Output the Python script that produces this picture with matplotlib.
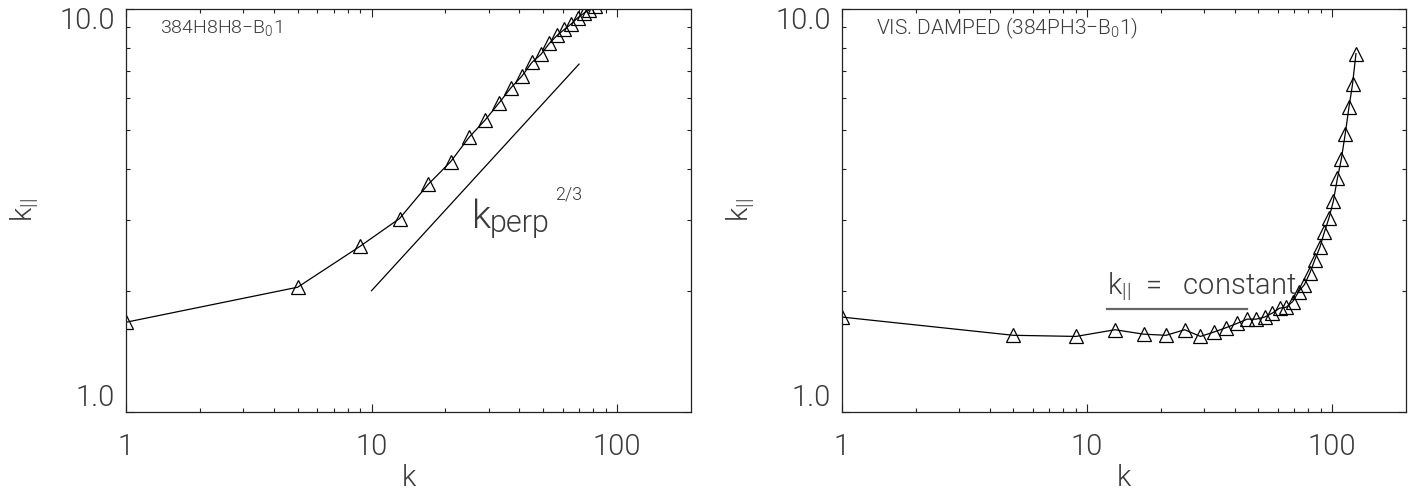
import matplotlib
matplotlib.use('Agg')
import matplotlib.pyplot as plt
from matplotlib import font_manager as fm
from matplotlib.transforms import ScaledTranslation
from matplotlib.ticker import FixedLocator, NullFormatter

# ---- data ----
left_k = [1, 5, 9, 13, 17, 21, 25, 29, 33, 37, 41, 45, 49, 53, 57, 61, 65, 69, 73, 77, 81]
left_v = [1.67, 2.04, 2.58, 3.02, 3.67, 4.18, 4.81, 5.30, 5.84, 6.38, 6.82, 7.37, 7.72,
          8.22, 8.60, 8.90, 9.18, 9.50, 9.75, 9.95, 10.15]
ref_k = [10, 70]
ref_v = [2.0, 7.3]

right_k = [1, 5, 9, 13, 17, 21, 25, 29, 33, 37, 41, 45, 49, 53, 57, 61, 65, 69, 73, 77,
           81, 85, 89, 93, 97, 101, 105, 109, 113, 117, 121, 125]
right_v = [1.72, 1.55, 1.54, 1.60, 1.56, 1.55, 1.60, 1.54, 1.58, 1.62, 1.66, 1.70, 1.70,
           1.72, 1.76, 1.81, 1.82, 1.88, 1.99, 2.07, 2.21, 2.39, 2.56, 2.80, 3.03, 3.33,
           3.80, 4.25, 4.90, 5.70, 6.50, 7.75]
const_k = [12, 45]
const_v = [1.8, 1.8]

x_major = [1, 10, 100]
x_major_labels = ['1', '10', '100']
x_minor = [2, 3, 4, 5, 6, 7, 8, 9, 20, 30, 40, 50, 60, 70, 80, 90]
y_major = [1, 10]
y_major_labels = ['1.0', '10.0']
y_minor = [2, 3, 4, 5, 6, 7, 8, 9]

titles = ['384H8H8$-$B$_\\mathregular{0}$1', 'VIS. DAMPED (384PH3$-$B$_\\mathregular{0}$1)']

# ---- font choice: prefer a thin face ----
fam, wt = 'DejaVu Sans', 'normal'
entries = [(f.name, f.weight) for f in fm.fontManager.ttflist]
def _w(w):
    try:
        return int(w)
    except Exception:
        return {'ultralight': 200, 'light': 300, 'normal': 400, 'regular': 400}.get(str(w), 400)
for name in ['Roboto', 'DejaVu Sans', 'Open Sans', 'Lato']:
    ws = [_w(w) for n, w in entries if n == name]
    light = [w for w in ws if w <= 300]
    if light:
        fam, wt = name, max(light)
        break
plt.rcParams['font.family'] = [fam, 'DejaVu Sans']
plt.rcParams['font.weight'] = wt
plt.rcParams['axes.labelweight'] = wt
plt.rcParams['mathtext.fontset'] = 'custom'
plt.rcParams['mathtext.rm'] = fam
plt.rcParams['mathtext.it'] = fam
plt.rcParams['mathtext.default'] = 'regular'

TXT = '#3a3a3a'
W, H = 1416, 491
fig = plt.figure(figsize=(W / 100, H / 100), dpi=100)

boxes = [(126, 691), (842, 1406)]
top, bot = 9, 412


def style_axes(ax):
    ax.set_xscale('log')
    ax.set_yscale('log')
    ax.set_xlim(1, 200)
    ax.set_ylim(1, 10)
    ax.xaxis.set_major_locator(FixedLocator(x_major))
    ax.xaxis.set_minor_locator(FixedLocator(x_minor))
    ax.yaxis.set_major_locator(FixedLocator(y_major))
    ax.yaxis.set_minor_locator(FixedLocator(y_minor))
    ax.set_xticklabels(x_major_labels)
    ax.set_yticklabels(y_major_labels)
    ax.xaxis.set_minor_formatter(NullFormatter())
    ax.yaxis.set_minor_formatter(NullFormatter())
    ax.tick_params(which='both', direction='in', top=True, right=True,
                   colors='#222222', width=0.8, labelcolor=TXT, labelsize=21)
    ax.tick_params(which='major', length=6)
    ax.tick_params(which='minor', length=3)
    ax.tick_params(axis='x', which='major', pad=15)
    ax.tick_params(axis='y', which='major', pad=8)
    labs = ax.get_yticklabels()
    labs[0].set_va('bottom')
    labs[1].set_va('top')
    labs[1].set_transform(labs[1].get_transform() + ScaledTranslation(0, 2 / 100, fig.dpi_scale_trans))
    for s in ax.spines.values():
        s.set_linewidth(0.9)
        s.set_color('#222222')
    ax.set_xlabel('k', fontsize=21, color=TXT, labelpad=2, fontweight=wt)
    ax.set_ylabel('k$_{||}$', fontsize=21, color=TXT, labelpad=14, fontweight=wt)


axes = []
for (x0, x1) in boxes:
    ax = fig.add_axes([x0 / W, 1 - bot / H, (x1 - x0) / W, (bot - top) / H])
    style_axes(ax)
    axes.append(ax)

mk = dict(marker='^', markersize=10, markerfacecolor='none', markeredgecolor='black',
          markeredgewidth=0.9, color='black', linewidth=0.9)

# left panel
axl = axes[0]
axl.plot(left_k, left_v, **mk)
axl.plot(ref_k, ref_v, color='black', linewidth=0.9)
axl.text(0.06, 0.953, titles[0], transform=axl.transAxes, fontsize=14, color=TXT,
         va='center', ha='left')
axl.text(25.6, 2.86, 'k', fontsize=28, color=TXT, ha='left', va='baseline')
axl.text(30.4, 2.80, 'perp', fontsize=22, color=TXT, ha='left', va='baseline')
axl.text(56.0, 3.36, '2/3', fontsize=13, color=TXT, ha='left', va='baseline')

# right panel
axr = axes[1]
axr.plot(right_k, right_v, **mk)
axr.plot(const_k, const_v, color='#666666', linewidth=1.6)
axr.text(0.06, 0.953, titles[1], transform=axr.transAxes, fontsize=15, color=TXT,
         va='center', ha='left')
axr.text(12.0, 1.97, 'k$_{||}$  =   constant', fontsize=21, color=TXT,
         ha='left', va='baseline')

fig.savefig('out.png', dpi=100)
